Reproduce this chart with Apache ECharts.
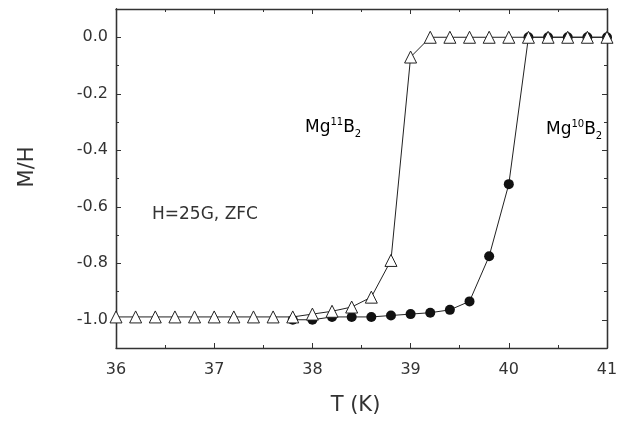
<!DOCTYPE html>
<html>
<head>
<meta charset="utf-8">
<script src="https://cdn.jsdelivr.net/npm/echarts@6/dist/echarts.min.js"></script>
<style>
  html, body { margin: 0; padding: 0; background: #fff; }
  #chart { width: 641px; height: 423px; }
</style>
</head>
<body>
<div id="chart"></div>
<script>
// Mg11B2 (open triangles)
const temps11 = [36.0, 36.2, 36.4, 36.6, 36.8, 37.0, 37.2, 37.4, 37.6, 37.8,
  38.0, 38.2, 38.4, 38.6, 38.8, 39.0, 39.2, 39.4, 39.6, 39.8,
  40.0, 40.2, 40.4, 40.6, 40.8, 41.0];
const mh11 = [-0.99, -0.99, -0.99, -0.99, -0.99, -0.99, -0.99, -0.99, -0.99, -0.99,
  -0.98, -0.97, -0.955, -0.92, -0.79, -0.07, 0.0, 0.0, 0.0, 0.0,
  0.0, 0.0, 0.0, 0.0, 0.0, 0.0];

// Mg10B2 (filled circles)
const temps10 = [37.8, 38.0, 38.2, 38.4, 38.6, 38.8, 39.0, 39.2, 39.4, 39.6,
  39.8, 40.0, 40.2, 40.4, 40.6, 40.8, 41.0];
const mh10 = [-1.0, -1.0, -0.99, -0.99, -0.99, -0.985, -0.98, -0.975, -0.965, -0.935,
  -0.775, -0.52, 0.0, 0.0, 0.0, 0.0, 0.0];

const yMajor = [-1.0, -0.8, -0.6, -0.4, -0.2, 0.0];
const yMinor = [-0.9, -0.7, -0.5, -0.3, -0.1];

const font = '"DejaVu Sans", Arial, sans-serif';
const ink = '#333';

function pairs(xs, ys) {
  return xs.map((x, i) => [x, ys[i]]);
}

function yAxisOf(pos, values, len, showLabel) {
  return {
    type: 'value',
    position: pos,
    min: -1.1,
    max: 0.1,
    axisLine: { show: true, onZero: false, lineStyle: { color: ink, width: 1.3 } },
    axisTick: { show: true, inside: true, length: len, customValues: values,
      lineStyle: { color: ink } },
    axisLabel: { show: showLabel, customValues: values, color: ink,
      fontFamily: font, fontSize: 16, margin: 8,
      formatter: v => v.toFixed(1) },
    splitLine: { show: false }
  };
}

function xAxisOf(pos, showLabel) {
  return {
    type: 'value',
    position: pos,
    min: 36,
    max: 41,
    interval: 1,
    axisLine: { show: true, onZero: false, lineStyle: { color: ink, width: 1.3 } },
    axisTick: { show: true, inside: true, length: 5, lineStyle: { color: ink } },
    minorTick: { show: true, splitNumber: 2, length: 3, lineStyle: { color: ink } },
    axisLabel: { show: showLabel, color: ink, fontFamily: font, fontSize: 16, margin: 14 },
    splitLine: { show: false },
    name: showLabel ? 'T (K)' : '',
    nameLocation: 'middle',
    nameGap: 47,
    nameTextStyle: { color: ink, fontFamily: font, fontSize: 21, padding: [0, 12, 0, 0] }
  };
}

const rich = {
  b: { fontSize: 17, fontFamily: font, color: ink, lineHeight: 24, verticalAlign: 'middle' },
  sup: { fontSize: 10, fontFamily: font, color: ink, lineHeight: 24, verticalAlign: 'top', padding: [1, 0, 0, 0] },
  sub: { fontSize: 10, fontFamily: font, color: ink, lineHeight: 24, verticalAlign: 'bottom', padding: [0, 0, 1, 0] }
};

const chart = echarts.init(document.getElementById('chart'));
chart.setOption({
  backgroundColor: '#fff',
  animation: false,
  grid: { left: 116, right: 34, top: 9, bottom: 75 },
  xAxis: [xAxisOf('bottom', true), xAxisOf('top', false)],
  yAxis: [
    yAxisOf('left', yMajor, 5, true),
    yAxisOf('right', yMajor, 5, false),
    yAxisOf('left', yMinor, 3, false),
    yAxisOf('right', yMinor, 3, false)
  ],
  series: [
    {
      name: 'Mg10B2',
      type: 'line',
      data: pairs(temps10, mh10),
      symbol: 'circle',
      symbolSize: 10,
      itemStyle: { color: '#111' },
      lineStyle: { color: '#222', width: 1 },
      z: 2
    },
    {
      name: 'Mg11B2',
      type: 'line',
      data: pairs(temps11, mh11),
      symbol: 'triangle',
      symbolSize: 12,
      itemStyle: { color: '#fff', borderColor: '#222', borderWidth: 1 },
      lineStyle: { color: '#222', width: 1 },
      z: 3
    }
  ],
  graphic: [
    { type: 'text', x: 28, y: 167, rotation: Math.PI / 2,
      style: { text: 'M/H', fontSize: 21, fontFamily: font, fill: ink,
        align: 'center', verticalAlign: 'middle' } },
    { type: 'text', left: 305, top: 116,
      style: { text: '{b|Mg}{sup|11}{b|B}{sub|2}', rich: rich } },
    { type: 'text', left: 546, top: 118,
      style: { text: '{b|Mg}{sup|10}{b|B}{sub|2}', rich: rich } },
    { type: 'text', left: 152, top: 206,
      style: { text: 'H=25G, ZFC', fontSize: 17, fontFamily: font, fill: ink } }
  ]
});
</script>
</body>
</html>
